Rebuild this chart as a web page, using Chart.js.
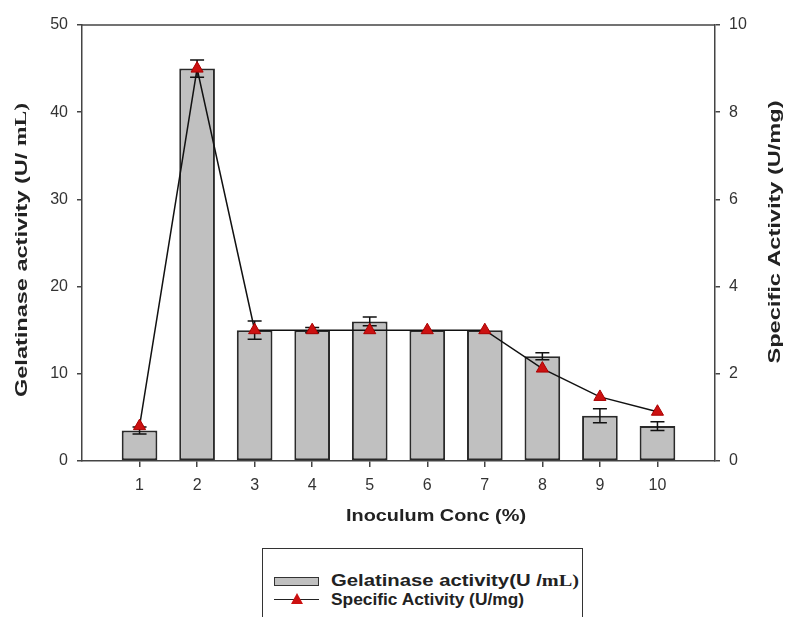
<!DOCTYPE html>
<html><head><meta charset="utf-8">
<script src="https://cdn.jsdelivr.net/npm/chart.js@4"></script>
<style>
html,body{margin:0;padding:0;background:#fff;}
#wrap{position:relative;width:790px;height:617px;overflow:hidden;background:#fff;}
#legend{position:absolute;left:262px;top:548px;width:321px;height:100px;border:1.5px solid #333;box-sizing:border-box;background:#fff;font-family:"Liberation Sans",Arial,sans-serif;font-weight:bold;font-size:16px;color:#222;}
.row{position:absolute;left:0;height:18px;line-height:18px;white-space:nowrap;}
.sw{position:absolute;left:11px;top:5px;width:45px;height:9px;background:#c0c0c0;border:1.5px solid #333;box-sizing:border-box;}
.ln{position:absolute;left:11px;top:8px;width:45px;height:0;border-top:1.5px solid #222;}
.tri{position:absolute;left:28px;top:2px;width:0;height:0;border-left:6px solid transparent;border-right:6px solid transparent;border-bottom:11px solid #cc1111;}
.txt{position:absolute;left:68px;top:0;transform-origin:0 50%;}
.serif{font-family:"Liberation Serif","Times New Roman",serif;}
</style></head>
<body>
<div id="wrap">
<canvas id="c" width="790" height="617"></canvas>
<div id="legend">
  <div class="row" style="top:23px;"><div class="sw"></div><div class="txt" id="t1">Gelatinase activity(U /<span class="serif">mL)</span></div></div>
  <div class="row" style="top:42px;"><div class="ln"></div><div class="tri"></div><div class="txt" id="t2">Specific Activity (U/mg)</div></div>
</div>
</div>
<script>
const concs = [1, 2, 3, 4, 5, 6, 7, 8, 9, 10];
const gelatinase = [3.5, 45.0, 15.0, 15.0, 16.0, 15.0, 15.0, 12.0, 5.2, 4.0];
const gelatinaseErr = [0.4, 1.0, 1.05, 0.3, 0.5, 0.0, 0.0, 0.4, 0.8, 0.5];
const specific = [0.8, 9.0, 3.0, 3.0, 3.0, 3.0, 3.0, 2.12, 1.47, 1.13];
const leftTicks = [0, 10, 20, 30, 40, 50];
const rightTicks = [0, 2, 4, 6, 8, 10];

const SANS = '"Liberation Sans", Arial, sans-serif';
const SERIF = '"Liberation Serif", "Times New Roman", serif';

// stretch legend texts to reference widths
function fitWidth(id, target) {
  const el = document.getElementById(id);
  const w = el.getBoundingClientRect().width;
  if (w > 0) el.style.transform = 'scaleX(' + (target / w) + ')';
}
fitWidth('t1', 248);
fitWidth('t2', 193);

function drawParts(ctx, parts, size, targetLen) {
  let total = 0;
  const widths = parts.map(p => {
    ctx.font = 'bold ' + size + 'px ' + p.f;
    const w = ctx.measureText(p.t).width;
    total += w;
    return w;
  });
  const s = targetLen / total;
  ctx.scale(s, 1);
  let x = -total / 2;
  ctx.textAlign = 'left';
  parts.forEach((p, i) => {
    ctx.font = 'bold ' + size + 'px ' + p.f;
    ctx.fillText(p.t, x, 0);
    x += widths[i];
  });
}

const extras = {
  id: 'extras',
  afterDatasetDraw(chart, args) {
    if (args.index !== 0) return;
    const ctx = chart.ctx;
    const y = chart.scales.y;
    const meta = chart.getDatasetMeta(0);
    ctx.save();
    ctx.strokeStyle = '#111';
    ctx.lineWidth = 1.5;
    meta.data.forEach((el, i) => {
      const e = gelatinaseErr[i];
      if (!e) return;
      const v = gelatinase[i];
      const yt = y.getPixelForValue(v + e);
      const yb = y.getPixelForValue(v - e);
      ctx.beginPath();
      ctx.moveTo(el.x, yt); ctx.lineTo(el.x, yb);
      ctx.moveTo(el.x - 7, yt); ctx.lineTo(el.x + 7, yt);
      ctx.moveTo(el.x - 7, yb); ctx.lineTo(el.x + 7, yb);
      ctx.stroke();
    });
    ctx.restore();
  },
  afterDraw(chart) {
    const ctx = chart.ctx;
    const a = chart.chartArea;
    ctx.save();
    ctx.strokeStyle = '#444';
    ctx.lineWidth = 1.5;
    ctx.beginPath();
    ctx.moveTo(a.left, a.top); ctx.lineTo(a.right, a.top);
    ctx.stroke();
    ctx.fillStyle = '#222';
    ctx.textBaseline = 'middle';
    // left title
    ctx.save();
    ctx.translate(22, 250);
    ctx.rotate(-Math.PI / 2);
    drawParts(ctx, [{ t: 'Gelatinase activity (U/ ', f: SANS }, { t: 'mL)', f: SERIF }], 16.5, 294);
    ctx.restore();
    // right title
    ctx.save();
    ctx.translate(775, 232);
    ctx.rotate(-Math.PI / 2);
    drawParts(ctx, [{ t: 'Specific Activity (U/mg)', f: SANS }], 16.5, 263);
    ctx.restore();
    // x title
    ctx.save();
    ctx.translate(436, 516);
    drawParts(ctx, [{ t: 'Inoculum Conc (%)', f: SANS }], 16.5, 180);
    ctx.restore();
    ctx.restore();
  }
};

new Chart(document.getElementById('c'), {
  type: 'bar',
  data: {
    datasets: [
      {
        type: 'bar',
        label: 'Gelatinase activity(U /mL)',
        data: concs.map((c, i) => ({ x: c, y: gelatinase[i] })),
        backgroundColor: '#c0c0c0',
        borderColor: '#2a2a2a',
        borderWidth: 2,
        borderSkipped: false,
        barPercentage: 0.62,
        categoryPercentage: 1,
        yAxisID: 'y',
        order: 1
      },
      {
        type: 'line',
        label: 'Specific Activity (U/mg)',
        data: concs.map((c, i) => ({ x: c, y: specific[i] })),
        borderColor: '#111',
        borderWidth: 1.5,
        tension: 0,
        pointStyle: 'triangle',
        pointRadius: 7,
        pointBackgroundColor: '#cc1111',
        pointBorderColor: '#aa0000',
        pointBorderWidth: 1,
        yAxisID: 'y2',
        order: 0
      }
    ]
  },
  options: {
    responsive: false,
    animation: false,
    devicePixelRatio: 1,
    layout: { padding: { top: 25, left: 0, right: 0, bottom: 0 } },
    plugins: { legend: { display: false }, tooltip: { enabled: false } },
    scales: {
      x: {
        type: 'linear',
        offset: false,
        min: 0, max: 11,
        afterFit(s) { s.height = 156; },
        afterBuildTicks(s) { s.ticks = concs.map(v => ({ value: v })); },
        grid: { display: true, offset: false, drawOnChartArea: false, drawTicks: true, tickLength: 6, color: '#444', lineWidth: 1.5 },
        border: { display: true, color: '#444', width: 1.5 },
        ticks: { color: '#333', font: { family: SANS, size: 16 }, padding: 9, maxRotation: 0, autoSkip: false }
      },
      y: {
        position: 'left',
        min: 0, max: 50,
        afterFit(s) { s.width = 82; },
        afterBuildTicks(s) { s.ticks = leftTicks.map(v => ({ value: v })); },
        grid: { display: true, drawOnChartArea: false, tickLength: 5, color: '#444', lineWidth: 1.5 },
        border: { display: true, color: '#444', width: 1.5 },
        ticks: { color: '#333', font: { family: SANS, size: 16 }, padding: 9 }
      },
      y2: {
        position: 'right',
        min: 0, max: 10,
        afterFit(s) { s.width = 75; },
        afterBuildTicks(s) { s.ticks = rightTicks.map(v => ({ value: v })); },
        grid: { display: true, drawOnChartArea: false, tickLength: 5, color: '#444', lineWidth: 1.5 },
        border: { display: true, color: '#444', width: 1.5 },
        ticks: { color: '#333', font: { family: SANS, size: 16 }, padding: 9 }
      }
    }
  },
  plugins: [extras]
});
</script>
</body></html>
